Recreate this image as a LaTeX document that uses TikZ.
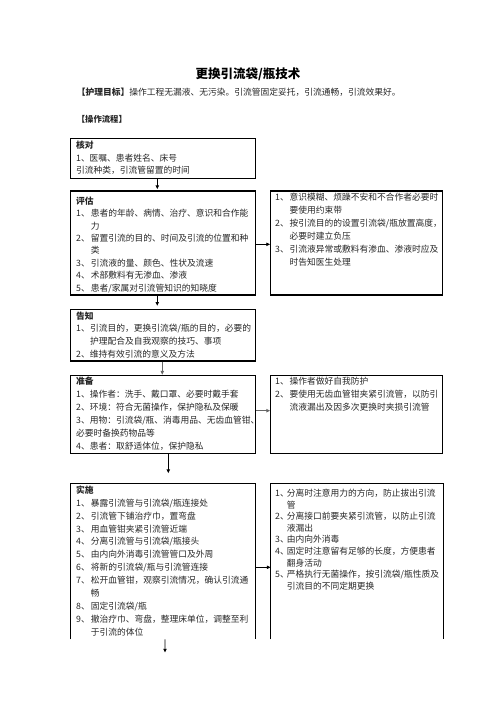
\documentclass[tikz,border=0pt]{standalone}
\usepackage{fontspec}
\setmainfont{Noto Sans CJK SC}
\usetikzlibrary{fit,arrows.meta,calc}
\newcommand\numit[3][17.6pt]{\makebox[#1][l]{#2}#3}
\newcommand\contl[2][17.6pt]{\hspace*{#1}#2}
\newcommand\boxtext[2]{\parbox[t]{260pt}{\fontsize{10.5}{#1}\selectfont #2}}
\begin{document}
\begin{tikzpicture}[x=1.2pt,y=-1.2pt,
  box/.style={draw, line width=1.5pt, inner sep=0pt},
  openbox/.style={inner sep=0pt},
  txt/.style={anchor=base west, inner sep=0pt, text=black!85},
  arr/.style={-{Triangle[length=4.5pt,width=4pt]}, line width=1pt},
  garr/.style={arr, draw=black!60, line width=1.8pt}]
\useasboundingbox (0,0) rectangle (496,702);
% title and headings
\node[anchor=base, inner sep=0pt, font=\fontsize{15}{18}\selectfont\bfseries] (title) at (248,78) {更换引流袋/瓶技术};
\node[txt, font=\fontsize{10.5}{12}\selectfont] (goal) at (76.7,95) {\textbf{【护理目标】}操作工程无漏液、无污染。引流管固定妥托，引流通畅，引流效果好。};
\node[txt, font=\fontsize{10}{12}\selectfont\bfseries] (flow) at (76.7,122.5) {【操作流程】};
% boxes
\node[box, fit={(70.7,138.3) (255.7,178.3)}] (b1) {};
\node[box, fit={(70.7,191) (255.7,295)}] (b2) {};
\node[box, fit={(270.7,191) (442.7,295)}] (r1) {};
\node[box, fit={(70.7,309.3) (255.7,361)}] (b3) {};
\node[box, fit={(70.7,375.3) (255.7,453.3)}] (b4) {};
\node[box, fit={(270.7,375.3) (442.7,453.3)}] (r2) {};
\node[openbox, fit={(70.7,483.3) (255.7,639.3)}] (b5) {};
\node[openbox, fit={(270.7,483.3) (443,639.3)}] (r3) {};
\draw[line width=1.5pt] (b5.south west) -- (b5.north west) -- (b5.north east) -- (b5.south east);
\draw[line width=1.5pt] (r3.south west) -- (r3.north west) -- (r3.north east) -- (r3.south east);
% texts
\node[txt] (t1) at (76,148.3) {\boxtext{15.4pt}{\textbf{核对}\\
\numit[16pt]{1、}{医嘱、患者姓名、床号}\\
引流种类，引流管留置的时间}};
\node[txt] (t2) at (76,204.3) {\boxtext{14.87pt}{\textbf{评估}\\
\numit{1、}{患者的年龄、病情、治疗、意识和合作能}\\
\contl{力}\\
\numit{2、}{留置引流的目的、时间及引流的位置和种}\\
\contl{类}\\
\numit{3、}{引流液的量、颜色、性状及流速}\\
\numit{4、}{术部敷料有无渗血、渗液}\\
\numit{5、}{患者/家属对引流管知识的知晓度}}};
\node[txt] (tr1) at (275,200) {\boxtext{15.74pt}{\numit[17.4pt]{1、}{意识模糊、烦躁不安和不合作者必要时}\\
\contl[17.4pt]{要使用约束带}\\
\numit[17.4pt]{2、}{按引流目的的设置引流袋/瓶放置高度，}\\
\contl[17.4pt]{必要时建立负压}\\
\numit[17.4pt]{3、}{引流液异常或敷料有渗血、渗液时应及}\\
\contl[17.4pt]{时告知医生处理}}};
\node[txt] (t3) at (76,319) {\boxtext{15.3pt}{\textbf{告知}\\
\numit[16.8pt]{1、}{引流目的，更换引流袋/瓶的目的，必要的}\\
\contl[16.8pt]{护理配合及自我观察的技巧、事项}\\
2、维持有效引流的意义及方法}};
\node[txt] (t4) at (76,384.3) {\boxtext{15.6pt}{\textbf{准备}\\
1、操作者：洗手、戴口罩、必要时戴手套\\
2、环境：符合无菌操作，保护隐私及保暖\\
3、用物：引流袋/瓶、消毒用品、无齿血管钳、\\
必要时备换药物品等\\
4、患者：取舒适体位，保护隐私}};
\node[txt] (tr2) at (275,384) {\boxtext{16pt}{\numit[17.4pt]{1、}{操作者做好自我防护}\\
\numit[17.4pt]{2、}{要使用无齿血管钳夹紧引流管，以防引}\\
\contl[17.4pt]{流液漏出及因多次更换时夹损引流管}}};
\node[txt] (t5) at (76,493.3) {\boxtext{15.5pt}{\textbf{实施}\\
\numit{1、}{暴露引流管与引流袋/瓶连接处}\\
\numit{2、}{引流管下铺治疗巾，置弯盘}\\
\numit{3、}{用血管钳夹紧引流管近端}\\
\numit{4、}{分离引流管与引流袋/瓶接头}\\
\numit{5、}{由内向外消毒引流管管口及外周}\\
\numit{6、}{将新的引流袋/瓶与引流管连接}\\
\numit{7、}{松开血管钳，观察引流情况，确认引流通}\\
\contl{畅}\\
\numit{8、}{固定引流袋/瓶}\\
\numit{9、}{撤治疗巾、弯盘，整理床单位，调整至利}\\
\contl{于引流的体位}}};
\node[txt] (tr3) at (275,496.6) {\boxtext{13.9pt}{\numit[14pt]{1、}{分离时注意用力的方向，防止拔出引流}\\
\contl[14pt]{管}\\
\numit[14pt]{2、}{分离接口前要夹紧引流管，以防止引流}\\
\contl[14pt]{液漏出}\\
\numit[14pt]{3、}{由内向外消毒}\\
\numit[14pt]{4、}{固定时注意留有足够的长度，方便患者}\\
\contl[14pt]{翻身活动}\\
\numit[14pt]{5、}{严格执行无菌操作，按引流袋/瓶性质及}\\
\contl[14pt]{引流目的不同定期更换}}};
% connectors
\draw[arr, shorten >=1.5pt] ([xshift=-7.1pt]b1.south) -- ([xshift=-7.1pt]b2.north);
\draw[arr, shorten >=3.5pt] ([xshift=-7.1pt]b2.south) -- ([xshift=-7.1pt]b3.north);
\draw[arr] ([yshift=-1.6pt]b2.east) -- ([yshift=-1.6pt]r1.west);
\draw[garr] ([xshift=-1.1pt]b3.south) -- ([xshift=-1.1pt]b4.north);
\draw[garr] ([yshift=4.3pt]b4.east) -- ([yshift=4.3pt]r2.west);
\draw[arr, shorten >=12pt] ([xshift=6.1pt]b4.south) -- ([xshift=6.1pt]b5.north);
\draw[arr] ([yshift=-7.2pt]b5.east) -- ([yshift=-7.2pt]r3.west);
\coordinate (next) at (165,652.5);
\draw[arr] ([xshift=2.2pt]b5.south) -- (next);
\end{tikzpicture}
\end{document}
